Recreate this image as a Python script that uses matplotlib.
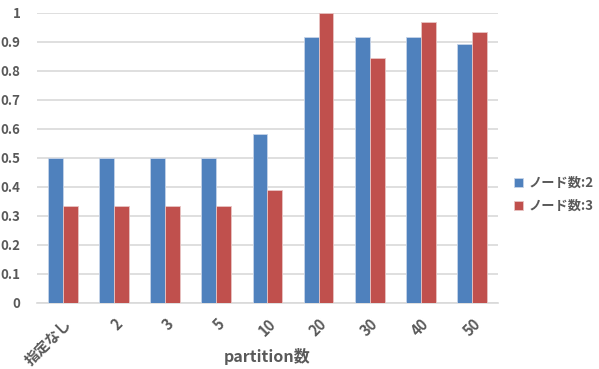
import numpy as np
import matplotlib
matplotlib.use("Agg")
import matplotlib.pyplot as plt

plt.rcParams['font.family'] = ['Noto Sans CJK JP', 'DejaVu Sans']

categories = ["指定なし", "2", "3", "5", "10", "20", "30", "40", "50"]
node2 = [0.5, 0.5, 0.5, 0.5, 0.583, 0.917, 0.917, 0.917, 0.893]
node3 = [0.333, 0.333, 0.333, 0.333, 0.389, 1.0, 0.846, 0.970, 0.934]
labels = ["ノード数:2", "ノード数:3"]

text_color = "#595959"
grid_color = "#d9d9d9"

fig = plt.figure(figsize=(5.99, 3.69), dpi=100)
ax = fig.add_axes([0.062, 0.179, 0.769, 0.786])

x = np.arange(len(categories))
w = 0.29
ax.bar(x - w / 2, node2, w, color="#4F81BD", edgecolor="#c6d4e8", linewidth=0.6, label=labels[0], zorder=3)
ax.bar(x + w / 2, node3, w, color="#C0504D", edgecolor="#e8c4c3", linewidth=0.6, label=labels[1], zorder=3)

ax.set_xlim(-0.5, len(categories) - 0.5)
ax.set_ylim(0, 1)
ax.set_yticks(np.arange(0, 1.01, 0.1))
ax.set_yticklabels(["0"] + [f"{v:.1f}" for v in np.arange(0.1, 0.95, 0.1)] + ["1"])
ax.yaxis.grid(True, color=grid_color, linewidth=1.2, zorder=0)
ax.set_axisbelow(True)

for s in ["top", "right", "left"]:
    ax.spines[s].set_visible(False)
ax.spines["bottom"].set_color(grid_color)
ax.spines["bottom"].set_linewidth(1.2)
ax.tick_params(length=0)

ax.set_xticks(x)
ax.set_xticklabels(categories, rotation=45, ha="right", rotation_mode="anchor")
for lbl in ax.get_xticklabels():
    lbl.set_fontsize(10.5)
    lbl.set_fontweight("bold")
    lbl.set_color(text_color)
for lbl in ax.get_yticklabels():
    lbl.set_fontsize(9.5)
    lbl.set_fontweight("bold")
    lbl.set_color(text_color)
ax.tick_params(axis="x", pad=9)
ax.tick_params(axis="y", pad=12)

ax.set_xlabel("partition数", fontsize=11.5, fontweight="bold", color=text_color)
ax.xaxis.set_label_coords(0.5, -0.186)
ax.xaxis.label.set_va("center")

leg = ax.legend(loc="center left", bbox_to_anchor=(1.01, 0.374), frameon=False,
                handlelength=0.7, handleheight=0.7, handletextpad=0.4, labelspacing=0.7,
                prop={"size": 9.5, "weight": "bold"})
for t in leg.get_texts():
    t.set_color(text_color)

fig.savefig("out.png", dpi=100)
